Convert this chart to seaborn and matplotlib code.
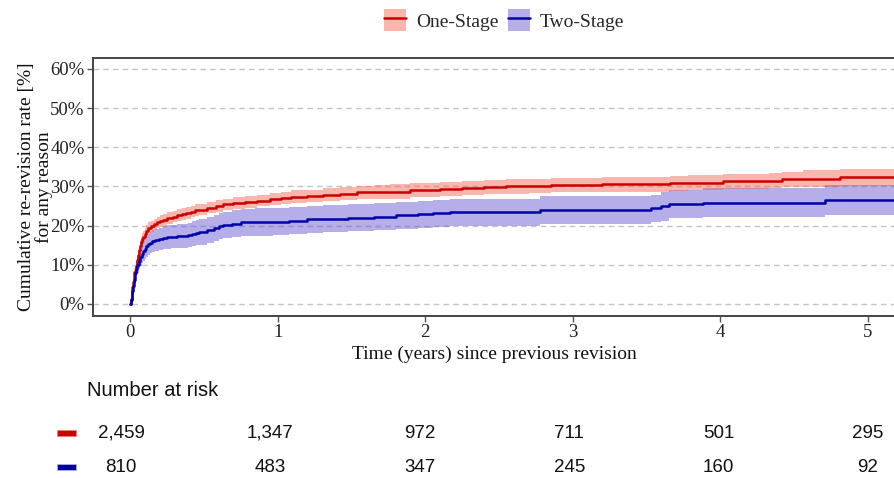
#!/usr/bin/env python3
"""
Cumulative re-revision rate: one-stage vs two-stage, with number-at-risk table
"""

import matplotlib.pyplot as plt
import seaborn as sns
import numpy as np
import pandas as pd
from matplotlib.patches import Patch, Rectangle
from matplotlib.lines import Line2D
from matplotlib.legend_handler import HandlerTuple
from matplotlib.ticker import FuncFormatter

sns.set_style("white")
plt.rcParams['font.family'] = ['Liberation Serif', 'DejaVu Serif']

# One-stage: time (years), cumulative rate (%), CI half-width (%)
one_t = [0, 0.005, 0.01, 0.015, 0.02, 0.025, 0.03, 0.037, 0.045, 0.052, 0.06, 0.067,
         0.075, 0.082, 0.09, 0.10, 0.11, 0.125, 0.14, 0.16, 0.18, 0.20, 0.22, 0.25,
         0.29, 0.32, 0.35, 0.38, 0.41, 0.44, 0.47, 0.52, 0.58, 0.63, 0.70, 0.78, 0.86,
         0.95, 1.02, 1.09, 1.20, 1.31, 1.42, 1.54, 1.65, 1.76, 1.90, 2.00, 2.10, 2.25,
         2.40, 2.55, 2.70, 2.85, 3.00, 3.20, 3.50, 3.66, 3.78, 4.02, 4.33, 4.42, 4.56,
         4.81, 5.20]
one_est = [0, 1.3, 2.8, 4.2, 5.5, 6.9, 8.2, 9.8, 11.3, 12.6, 13.8, 14.9,
           15.8, 16.6, 17.2, 17.9, 18.6, 19.3, 19.8, 20.3, 20.8, 21.1, 21.5, 21.9,
           22.3, 22.7, 23.0, 23.3, 23.6, 23.9, 24.1, 24.6, 25.0, 25.4, 25.8, 26.1, 26.4,
           26.8, 27.1, 27.4, 27.6, 27.9, 28.2, 28.5, 28.6, 28.7, 29.0, 29.2, 29.4, 29.6,
           29.8, 30.0, 30.2, 30.3, 30.4, 30.5, 30.5, 30.8, 31.0, 31.3, 31.5, 31.8, 32.0,
           32.3, 32.3]
one_ci = [0, 0.3, 0.5, 0.6, 0.8, 0.9, 1.0, 1.1, 1.2, 1.25, 1.3, 1.35,
          1.4, 1.4, 1.4, 1.45, 1.5, 1.5, 1.5, 1.5, 1.5, 1.5, 1.5, 1.5,
          1.5, 1.5, 1.5, 1.5, 1.5, 1.5, 1.5, 1.5, 1.5, 1.5, 1.5, 1.5, 1.5,
          1.5, 1.6, 1.6, 1.6, 1.7, 1.7, 1.7, 1.7, 1.8, 1.8, 1.8, 1.8, 1.8,
          1.8, 1.8, 1.8, 1.8, 1.8, 1.9, 1.9, 1.9, 1.9, 1.9, 2.0, 2.0, 2.1,
          2.1, 2.1]

# Two-stage
two_t = [0, 0.005, 0.01, 0.015, 0.02, 0.027, 0.034, 0.042, 0.05, 0.06, 0.07, 0.08,
         0.09, 0.10, 0.11, 0.123, 0.136, 0.15, 0.17, 0.195, 0.22, 0.25, 0.28, 0.32,
         0.36, 0.39, 0.42, 0.45, 0.47, 0.52, 0.57, 0.60, 0.63, 0.69, 0.75, 0.85, 0.97,
         1.08, 1.20, 1.31, 1.48, 1.65, 1.80, 1.95, 2.05, 2.17, 2.78, 3.53, 3.60, 3.65,
         3.88, 4.71, 5.20]
two_est = [0, 1.1, 2.2, 3.3, 4.5, 6.2, 7.9, 9.0, 10.0, 11.0, 12.0, 12.8,
           13.5, 14.1, 14.7, 15.2, 15.6, 16.0, 16.3, 16.6, 16.9, 17.1, 17.2, 17.3,
           17.4, 17.6, 17.9, 18.2, 18.4, 18.8, 19.4, 19.8, 20.2, 20.5, 20.8, 20.9, 21.0,
           21.3, 21.6, 21.8, 22.0, 22.3, 22.6, 22.9, 23.1, 23.4, 24.0, 24.4, 24.9, 25.6,
           25.9, 26.6, 26.6]
two_ci = [0, 0.5, 0.8, 1.0, 1.2, 1.5, 1.7, 1.9, 2.0, 2.2, 2.3, 2.4,
          2.5, 2.6, 2.6, 2.7, 2.7, 2.8, 2.8, 2.9, 2.9, 3.0, 3.0, 3.0,
          3.1, 3.1, 3.2, 3.2, 3.3, 3.3, 3.3, 3.3, 3.4, 3.4, 3.4, 3.5, 3.5,
          3.5, 3.5, 3.5, 3.5, 3.5, 3.5, 3.5, 3.5, 3.5, 3.5, 3.5, 3.6, 3.6,
          3.6, 3.8, 3.8]

groups = ['One-Stage', 'Two-Stage']
line_colors = ['#CC0000', '#0000AA']
band_colors = ['#F45D47', '#5B4CCC']
edge_colors = ['#F08070', '#B8B0E0']

# Number at risk
risk_times = [0, 1, 2, 3, 4, 5]
risk_one = ['2,459', '1,347', '972', '711', '501', '295']
risk_two = ['810', '483', '347', '245', '160', '92']

y_ticks = [0, 10, 20, 30, 40, 50, 60]
x_ticks = [0, 1, 2, 3, 4, 5]

curves = {}
for g, t, est, ci in [('One-Stage', one_t, one_est, one_ci),
                      ('Two-Stage', two_t, two_est, two_ci)]:
    d = pd.DataFrame({'t': t, 'est': est, 'ci': ci})
    d['lo'] = d['est'] - d['ci']
    d['hi'] = d['est'] + d['ci']
    curves[g] = d

W, H = 895, 478
fig = plt.figure(figsize=(W / 100, H / 100), dpi=100)
ax = fig.add_axes([93 / W, 1 - 316 / H, 802 / W, (316 - 58) / H])

# bands first, two-stage below one-stage
for g, bc in zip(groups[::-1], band_colors[::-1]):
    d = curves[g]
    ax.fill_between(d['t'], d['lo'], d['hi'], step='post', color=bc, alpha=0.45,
                    linewidth=0)
for g, lc in zip(groups, line_colors):
    d = curves[g]
    sns.lineplot(data=d, x='t', y='est', ax=ax, color=lc, linewidth=1.8,
                 drawstyle='steps-post', estimator=None, sort=False, legend=False)

ax.set_xlim(-0.251, 5.183)
ax.set_ylim(-3.08, 62.8)
ax.set_xticks(x_ticks)
ax.set_yticks(y_ticks)
ax.yaxis.set_major_formatter(FuncFormatter(lambda v, p: f'{v:.0f}%'))
ax.tick_params(axis='both', labelsize=13.5, length=4, width=1, color='#555555',
               pad=2, left=True, bottom=True, labelcolor='#222222')
ax.yaxis.grid(True, linestyle=(0, (4, 3)), color='#C4C4C4', linewidth=1)
ax.xaxis.grid(False)
for side in ['left', 'bottom', 'top']:
    ax.spines[side].set_color('#444444')
    ax.spines[side].set_linewidth(1.4)
ax.spines['right'].set_visible(False)

ax.set_xlabel('Time (years) since previous revision', fontsize=14, labelpad=3,
              color='#111111')
ax.set_ylabel('Cumulative re-revision rate [%]\nfor any reason', fontsize=14,
              color='#111111', linespacing=1.0)
ax.yaxis.set_label_coords(-0.050, 0.5)

# legend at top: shaded square with the line through it
handles = [(Patch(facecolor=bc, alpha=0.45, edgecolor='none'),
            Line2D([0], [0], color=lc, linewidth=1.8))
           for bc, lc in zip(band_colors, line_colors)]
fig.legend(handles, groups, handler_map={tuple: HandlerTuple(ndivide=1, pad=0)},
           loc='center', bbox_to_anchor=(504 / W, 1 - 20 / H), ncol=2, frameon=False,
           fontsize=14, handlelength=1.15, handleheight=1.3, handletextpad=0.5,
           columnspacing=0.5)

# number at risk table
tab = fig.add_axes([93 / W, 0, 802 / W, 68 / H])
tab.set_xlim((93 - 121) / 149.4, (895 - 121) / 149.4)
tab.set_ylim(1 + 11 / 34, -23 / 34)
tab.axis('off')
sans = ['Liberation Sans Narrow', 'Liberation Sans', 'DejaVu Sans']
for row, vals in enumerate([risk_one, risk_two]):
    for t, v in zip(risk_times, vals):
        tab.text(t, row, v, ha='center', va='center', fontsize=13.5, family=sans,
                 color='#111111')
for row, (lc, ec) in enumerate(zip(line_colors, edge_colors)):
    fig.add_artist(Rectangle((57 / W, 1 - (433 + 3 + 34 * row) / H), 19 / W, 6 / H,
                             transform=fig.transFigure, facecolor=lc,
                             edgecolor=ec, linewidth=0.6))
fig.text(87 / W, 1 - 390 / H, 'Number at risk', ha='left', va='center',
         fontsize=14.5, family=sans, color='#111111')

plt.savefig('out.png', dpi=100)
plt.close()
